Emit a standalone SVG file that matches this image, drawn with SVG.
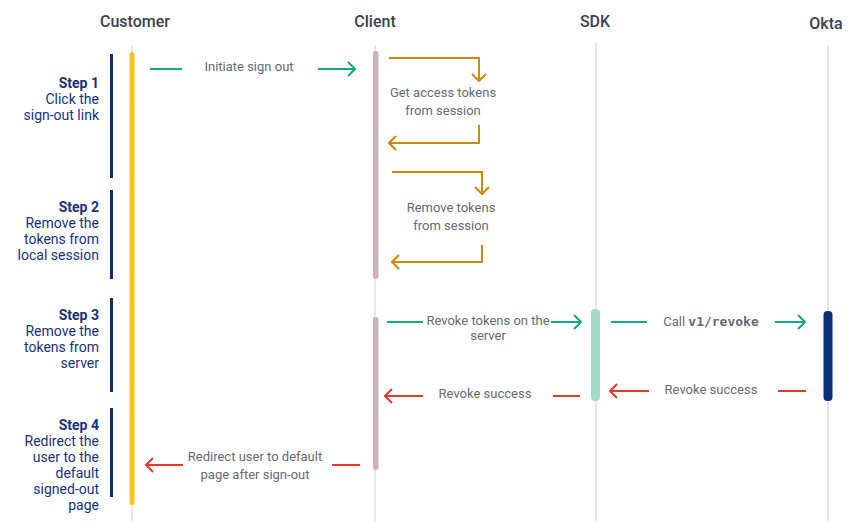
<svg xmlns="http://www.w3.org/2000/svg" width="862" height="531" viewBox="0 0 862 531">
<style>
.hdr{font-family:Roboto,"Liberation Sans",sans-serif;font-size:16px;font-weight:500;fill:#3c4150;text-anchor:middle}
.step{font-family:Roboto,"Liberation Sans",sans-serif;font-size:14px;fill:#17317c;text-anchor:end}
.step .b{font-weight:700}
.lbl{font-family:Roboto,"Liberation Sans",sans-serif;font-size:13px;fill:#666a75;text-anchor:middle}
.mono{font-family:"DejaVu Sans Mono","Liberation Mono",monospace;font-weight:700}
.life{stroke:#e3e7ec;stroke-width:2}
.g{stroke:#15ab76;stroke-width:2;fill:none}
.o{stroke:#cc8a00;stroke-width:2;fill:none}
.r{stroke:#e63a2e;stroke-width:2;fill:none}
.sbar{fill:#0d2d78}
</style>
<defs>
<marker id="ag" viewBox="0 0 10 16" refX="9" refY="8" markerWidth="10" markerHeight="16" markerUnits="userSpaceOnUse" orient="auto"><path d="M2,1 L9,8 L2,15" fill="none" stroke="#15ab76" stroke-width="2"/></marker>
<marker id="ao" viewBox="0 0 10 16" refX="9" refY="8" markerWidth="10" markerHeight="16" markerUnits="userSpaceOnUse" orient="auto"><path d="M2,1 L9,8 L2,15" fill="none" stroke="#cc8a00" stroke-width="2"/></marker>
<marker id="ar" viewBox="0 0 10 16" refX="9" refY="8" markerWidth="10" markerHeight="16" markerUnits="userSpaceOnUse" orient="auto"><path d="M2,1 L9,8 L2,15" fill="none" stroke="#e63a2e" stroke-width="2"/></marker>
</defs>
<rect width="862" height="531" fill="#ffffff"/>

<g id="lifelines">
<line class="life" x1="132" y1="45" x2="132" y2="521"/>
<line class="life" x1="375" y1="45" x2="375" y2="521"/>
<line class="life" x1="596" y1="43" x2="596" y2="521"/>
<line class="life" x1="828" y1="45" x2="828" y2="521"/>
</g>

<g id="customer">
<text class="hdr" x="135" y="27">Customer</text>
<rect x="129.5" y="52" width="5" height="453" rx="2.5" fill="#fcc21b"/>
</g>
<g id="client">
<text class="hdr" x="375" y="27">Client</text>
<rect x="373" y="51" width="5.5" height="228" rx="2.75" fill="#cfb0c0"/>
<rect x="373" y="317" width="5.5" height="153" rx="2.75" fill="#cfb0c0"/>
</g>
<g id="sdk">
<text class="hdr" x="595" y="27">SDK</text>
<rect x="591" y="309" width="9" height="92" rx="4" fill="#a3dcc6"/>
</g>
<g id="okta">
<text class="hdr" x="826" y="29">Okta</text>
<rect x="823.5" y="311" width="9" height="90" rx="4" fill="#0d2d78"/>
</g>

<g id="step1">
<rect class="sbar" x="110" y="54" width="3" height="124"/>
<text class="step" x="99" y="88"><tspan class="b">Step 1</tspan><tspan x="99" dy="16">Click the</tspan><tspan x="99" dy="16">sign-out link</tspan></text>
</g>
<g id="step2">
<rect class="sbar" x="110" y="190" width="3" height="89"/>
<text class="step" x="99" y="212"><tspan class="b">Step 2</tspan><tspan x="99" dy="16">Remove the</tspan><tspan x="99" dy="16">tokens from</tspan><tspan x="99" dy="16">local session</tspan></text>
</g>
<g id="step3">
<rect class="sbar" x="110" y="298" width="3" height="94"/>
<text class="step" x="99" y="320"><tspan class="b">Step 3</tspan><tspan x="99" dy="16">Remove the</tspan><tspan x="99" dy="16">tokens from</tspan><tspan x="99" dy="16">server</tspan></text>
</g>
<g id="step4">
<rect class="sbar" x="110" y="408" width="3" height="89"/>
<text class="step" x="99" y="430"><tspan class="b">Step 4</tspan><tspan x="99" dy="16">Redirect the</tspan><tspan x="99" dy="16">user to the</tspan><tspan x="99" dy="16">default</tspan><tspan x="99" dy="16">signed-out</tspan><tspan x="99" dy="16">page</tspan></text>
</g>

<g id="connectors">
<line class="g" x1="150" y1="69" x2="182" y2="69"/>
<line class="g" x1="318" y1="69" x2="355" y2="69" marker-end="url(#ag)"/>
<text class="lbl" x="249" y="71">Initiate sign out</text>

<polyline class="o" points="389,58 479,58 479,81" marker-end="url(#ao)"/>
<text class="lbl" x="443" y="97">Get access tokens</text>
<text class="lbl" x="443" y="115">from session</text>
<polyline class="o" points="479,125 479,143 389,143" marker-end="url(#ao)"/>

<polyline class="o" points="392,172 482,172 482,194" marker-end="url(#ao)"/>
<text class="lbl" x="451" y="212">Remove tokens</text>
<text class="lbl" x="451" y="230">from session</text>
<polyline class="o" points="482,245 482,262 392,262" marker-end="url(#ao)"/>

<line class="g" x1="387" y1="322" x2="423" y2="322"/>
<line class="g" x1="551" y1="322" x2="581" y2="322" marker-end="url(#ag)"/>
<text class="lbl" x="488" y="325">Revoke tokens on the</text>
<text class="lbl" x="488" y="340">server</text>

<line class="g" x1="611" y1="322" x2="647" y2="322"/>
<line class="g" x1="775" y1="322" x2="805" y2="322" marker-end="url(#ag)"/>
<text class="lbl" x="711" y="326">Call <tspan class="mono">v1/revoke</tspan></text>

<line class="r" x1="806" y1="391" x2="778" y2="391"/>
<line class="r" x1="649" y1="391" x2="610" y2="391" marker-end="url(#ar)"/>
<text class="lbl" x="711" y="394">Revoke success</text>

<line class="r" x1="580" y1="396" x2="553" y2="396"/>
<line class="r" x1="423" y1="396" x2="385" y2="396" marker-end="url(#ar)"/>
<text class="lbl" x="485" y="398">Revoke success</text>

<line class="r" x1="360" y1="465" x2="332" y2="465"/>
<line class="r" x1="183" y1="465" x2="146" y2="465" marker-end="url(#ar)"/>
<text class="lbl" x="255" y="461">Redirect user to default</text>
<text class="lbl" x="255" y="479">page after sign-out</text>
</g>
</svg>
